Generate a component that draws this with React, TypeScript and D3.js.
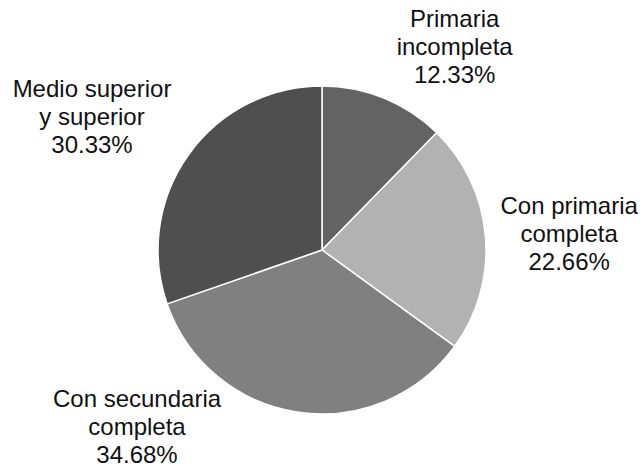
import * as d3 from 'd3'
import { useEffect, useRef } from 'react'

const categories = ['Primaria incompleta', 'Con primaria completa', 'Con secundaria completa', 'Medio superior y superior']
const values = [12.33, 22.66, 34.68, 30.33]
const labelLines = [
  ['Primaria', 'incompleta'],
  ['Con primaria', 'completa'],
  ['Con secundaria', 'completa'],
  ['Medio superior', 'y superior'],
]
const colors = ['#636363', '#b2b2b2', '#808080', '#4f4f4f']

const W = 643
const H = 466
const CX = 322
const CY = 250
const R = 164
const LABEL_R = 240
const LINE_H = 28
// Excel drops the labels loosely around the pie, so nudge each one off its label-arc centroid
const NUDGE: [number, number][] = [
  [42, 27],
  [8, 12],
  [0, 0],
  [0, 0],
]

type Slice = { name: string; value: number; i: number }

export default function App() {
  const svgRef = useRef<SVGSVGElement>(null)

  useEffect(() => {
    const svgEl = svgRef.current
    if (!svgEl) return
    const svg = d3.select(svgEl)
    svg.selectAll('*').remove()

    const data: Slice[] = categories.map((name, i) => ({ name, value: values[i], i }))
    const pie = d3
      .pie<Slice>()
      .value((d) => d.value)
      .sort(null)
    const arcs = pie(data)

    const arc = d3.arc<d3.PieArcDatum<Slice>>().innerRadius(0).outerRadius(R)
    const labelArc = d3.arc<d3.PieArcDatum<Slice>>().innerRadius(LABEL_R).outerRadius(LABEL_R)

    const g = svg.append('g').attr('transform', `translate(${CX},${CY})`)
    g.selectAll('path')
      .data(arcs)
      .join('path')
      .attr('d', (d) => arc(d) ?? '')
      .attr('fill', (d) => colors[d.data.i])
      .attr('stroke', '#ffffff')
      .attr('stroke-width', 1.5)
      .attr('stroke-linejoin', 'round')

    // centroid on the label arc is only a starting point
    const nudged = arcs.map((d, i) => {
      const [x, y] = labelArc.centroid(d)
      return [x + NUDGE[i][0], y + NUDGE[i][1]]
    })
    // the lower-left pair sit further out than the centroid would put them
    nudged[2] = [137 - CX, 435 - CY]
    nudged[3] = [92 - CX, 125 - CY]

    const labels = g
      .selectAll('text.lbl')
      .data(arcs)
      .join('text')
      .attr('class', 'lbl')
      .attr('text-anchor', 'middle')
      .attr('font-family', '"Liberation Sans", Arial, sans-serif')
      .attr('font-size', 24)
      .attr('fill', '#111')
      .attr('transform', (_d, i) => `translate(${nudged[i][0]},${nudged[i][1]})`)

    labels.each(function (d) {
      const t = d3.select(this)
      const lines = [...labelLines[d.data.i], `${d.data.value.toFixed(2)}%`]
      lines.forEach((ln, k) => {
        t.append('tspan')
          .attr('x', 0)
          .attr('y', (k - 1) * LINE_H)
          .text(ln)
      })
    })
  }, [])

  return (
    <svg
      ref={svgRef}
      width={W}
      height={H}
      style={{ position: 'absolute', left: 0, top: 0, background: '#fff' }}
    />
  )
}
